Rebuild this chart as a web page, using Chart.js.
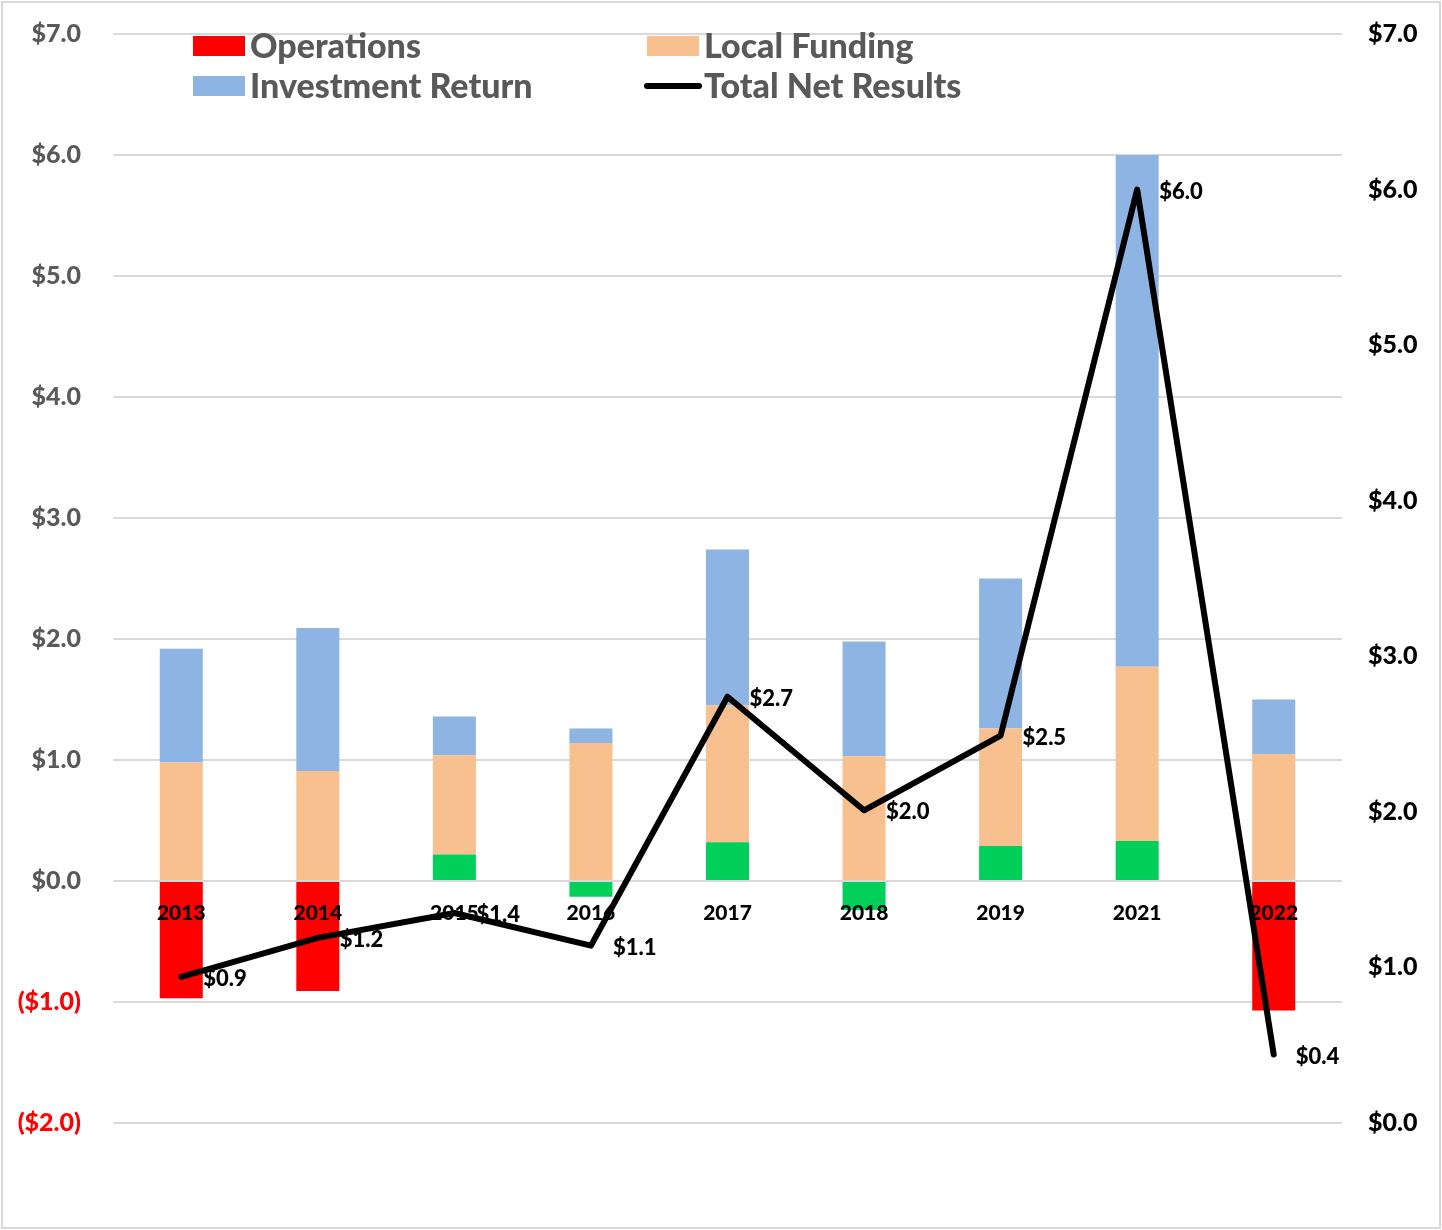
<!DOCTYPE html>
<html>
<head>
<meta charset="utf-8">
<script src="https://cdn.jsdelivr.net/npm/chart.js@4.4.1/dist/chart.umd.min.js"></script>
<style>
  html, body { margin: 0; padding: 0; background: #fff; }
  #wrap { width: 1442px; height: 1230px; position: relative; }
</style>
</head>
<body>
<div id="wrap"><canvas id="chart-combo"></canvas></div>
<script>
var years = ["2013", "2014", "2015", "2016", "2017", "2018", "2019", "2021", "2022"];
var operations = [-0.97, -0.91, 0.22, -0.13, 0.32, -0.24, 0.29, 0.33, -1.07];
var localFunding = [0.98, 0.91, 0.82, 1.14, 1.13, 1.03, 0.97, 1.44, 1.05];
var investmentReturn = [0.94, 1.18, 0.32, 0.12, 1.29, 0.95, 1.24, 4.23, 0.45];
var totalNet = [0.94, 1.19, 1.35, 1.14, 2.74, 2.01, 2.49, 6.0, 0.44];
var leftTicks = [-2, -1, 0, 1, 2, 3, 4, 5, 6, 7];
var rightTicks = [0, 1, 2, 3, 4, 5, 6, 7];

var fontFamily = "Lato, 'Open Sans', sans-serif";
var RED = "#ff0000", GREEN = "#00d05a";
// red bars only where operations lost a lot
var opsColors = [RED, RED, GREEN, GREEN, GREEN, GREEN, GREEN, GREEN, RED];

function money(v) {
    return v < 0 ? "($" + Math.abs(v).toFixed(1) + ")" : "$" + v.toFixed(1);
}

// tick padding would otherwise push the plot down
function fixAxis(width) {
    return function(s) {
        s.width = width;
        s.paddingTop = 0;
        s.paddingBottom = 0;
    };
}

// labels to the right of each line point
var pointLabels = {
    id: "pointLabels",
    afterDatasetsDraw: function(chart) {
        var ctx = chart.ctx;
        var meta = chart.getDatasetMeta(3);
        ctx.save();
        ctx.font = "900 22px " + fontFamily;
        ctx.fillStyle = "#000";
        ctx.textAlign = "left";
        ctx.textBaseline = "middle";
        meta.data.forEach(function(pt, i) {
            ctx.fillText("$" + totalNet[i].toFixed(1), pt.x + 22, pt.y + 2);
        });
        ctx.restore();
    }
};

// legend in two columns sitting over the top of the plot
var cornerLegend = {
    id: "cornerLegend",
    afterDraw: function(chart) {
        var ctx = chart.ctx;
        var items = [
            { text: chart.data.datasets[0].label, color: RED, x: 193, y: 46, type: "box" },
            { text: chart.data.datasets[1].label, color: "#f9c08f", x: 647, y: 46, type: "box" },
            { text: chart.data.datasets[2].label, color: "#8eb4e3", x: 193, y: 86, type: "box" },
            { text: chart.data.datasets[3].label, color: "#000000", x: 647, y: 86, type: "line" }
        ];
        ctx.save();
        ctx.font = "900 34px " + fontFamily;
        ctx.textBaseline = "middle";
        ctx.textAlign = "left";
        items.forEach(function(it) {
            if (it.type === "box") {
                ctx.fillStyle = it.color;
                ctx.fillRect(it.x, it.y - 10, 52, 20);
            } else {
                ctx.strokeStyle = it.color;
                ctx.lineWidth = 6;
                ctx.lineCap = "round";
                ctx.beginPath();
                ctx.moveTo(it.x, it.y);
                ctx.lineTo(it.x + 52, it.y);
                ctx.stroke();
            }
            ctx.fillStyle = "#595959";
            ctx.fillText(it.text, it.x + 57, it.y + 1);
        });
        ctx.restore();
    }
};

var frame = {
    id: "frame",
    beforeDraw: function(chart) {
        var ctx = chart.ctx;
        ctx.save();
        ctx.fillStyle = "#fff";
        ctx.fillRect(0, 0, chart.width, chart.height);
        ctx.strokeStyle = "#d9d9d9";
        ctx.lineWidth = 2;
        ctx.strokeRect(2, 2, chart.width - 4, chart.height - 4);
        ctx.restore();
    }
};

var ctx1 = document.getElementById("chart-combo").getContext("2d");

new Chart(ctx1, {
type: "bar",
data: {
    labels: years,
    datasets: [{
        label: "Operations",
        data: operations,
        backgroundColor: opsColors,
        yAxisID: "y",
        stack: "s",
        order: 1
    },
    {
        label: "Local Funding",
        data: localFunding,
        backgroundColor: "#f9c08f",
        yAxisID: "y",
        stack: "s",
        order: 1
    },
    {
        label: "Investment Return",
        data: investmentReturn,
        backgroundColor: "#8eb4e3",
        yAxisID: "y",
        stack: "s",
        order: 1
    },
    {
        type: "line",
        label: "Total Net Results",
        data: totalNet,
        borderColor: "#000",
        borderWidth: 6,
        borderCapStyle: "round",
        borderJoinStyle: "round",
        pointRadius: 0,
        tension: 0,
        fill: false,
        yAxisID: "y1",
        order: 0
    }]
},
options: {
    responsive: true,
    maintainAspectRatio: false,
    animation: false,
    layout: {
        padding: { top: 34, bottom: 107, left: 0, right: 0 }
    },
    datasets: {
        bar: { barPercentage: 0.315, categoryPercentage: 1 }
    },
    plugins: {
        legend: { display: false },
        tooltip: { enabled: false }
    },
    scales: {
        x: {
            position: { y: 0 },
            stacked: true,
            afterFit: function(s) { s.height = 0; },
            grid: { display: false, drawTicks: false },
            border: { display: false },
            ticks: {
                z: 1,
                color: "#000",
                padding: 20,
                font: { size: 21, weight: "900", family: fontFamily }
            }
        },
        y: {
            position: "left",
            stacked: true,
            min: -2,
            max: 7,
            afterFit: fixAxis(113),
            afterBuildTicks: function(s) {
                s.ticks = leftTicks.map(function(v) { return { value: v }; });
            },
            grid: {
                color: "#d9d9d9",
                lineWidth: 2,
                drawTicks: false
            },
            border: { display: false },
            ticks: {
                padding: 32,
                color: function(c) { return c.tick.value < 0 ? RED : "#595959"; },
                font: { size: 25, weight: "900", family: fontFamily },
                callback: function(v) { return money(v); }
            }
        },
        y1: {
            position: "right",
            min: 0,
            max: 7,
            afterFit: fixAxis(100),
            afterBuildTicks: function(s) {
                s.ticks = rightTicks.map(function(v) { return { value: v }; });
            },
            grid: { display: false, drawOnChartArea: false, drawTicks: false },
            border: { display: false },
            ticks: {
                padding: 26,
                color: "#000",
                font: { size: 25, weight: "900", family: fontFamily },
                callback: function(v) { return money(v); }
            }
        }
    }
},
plugins: [frame, pointLabels, cornerLegend]
});
</script>
</body>
</html>
